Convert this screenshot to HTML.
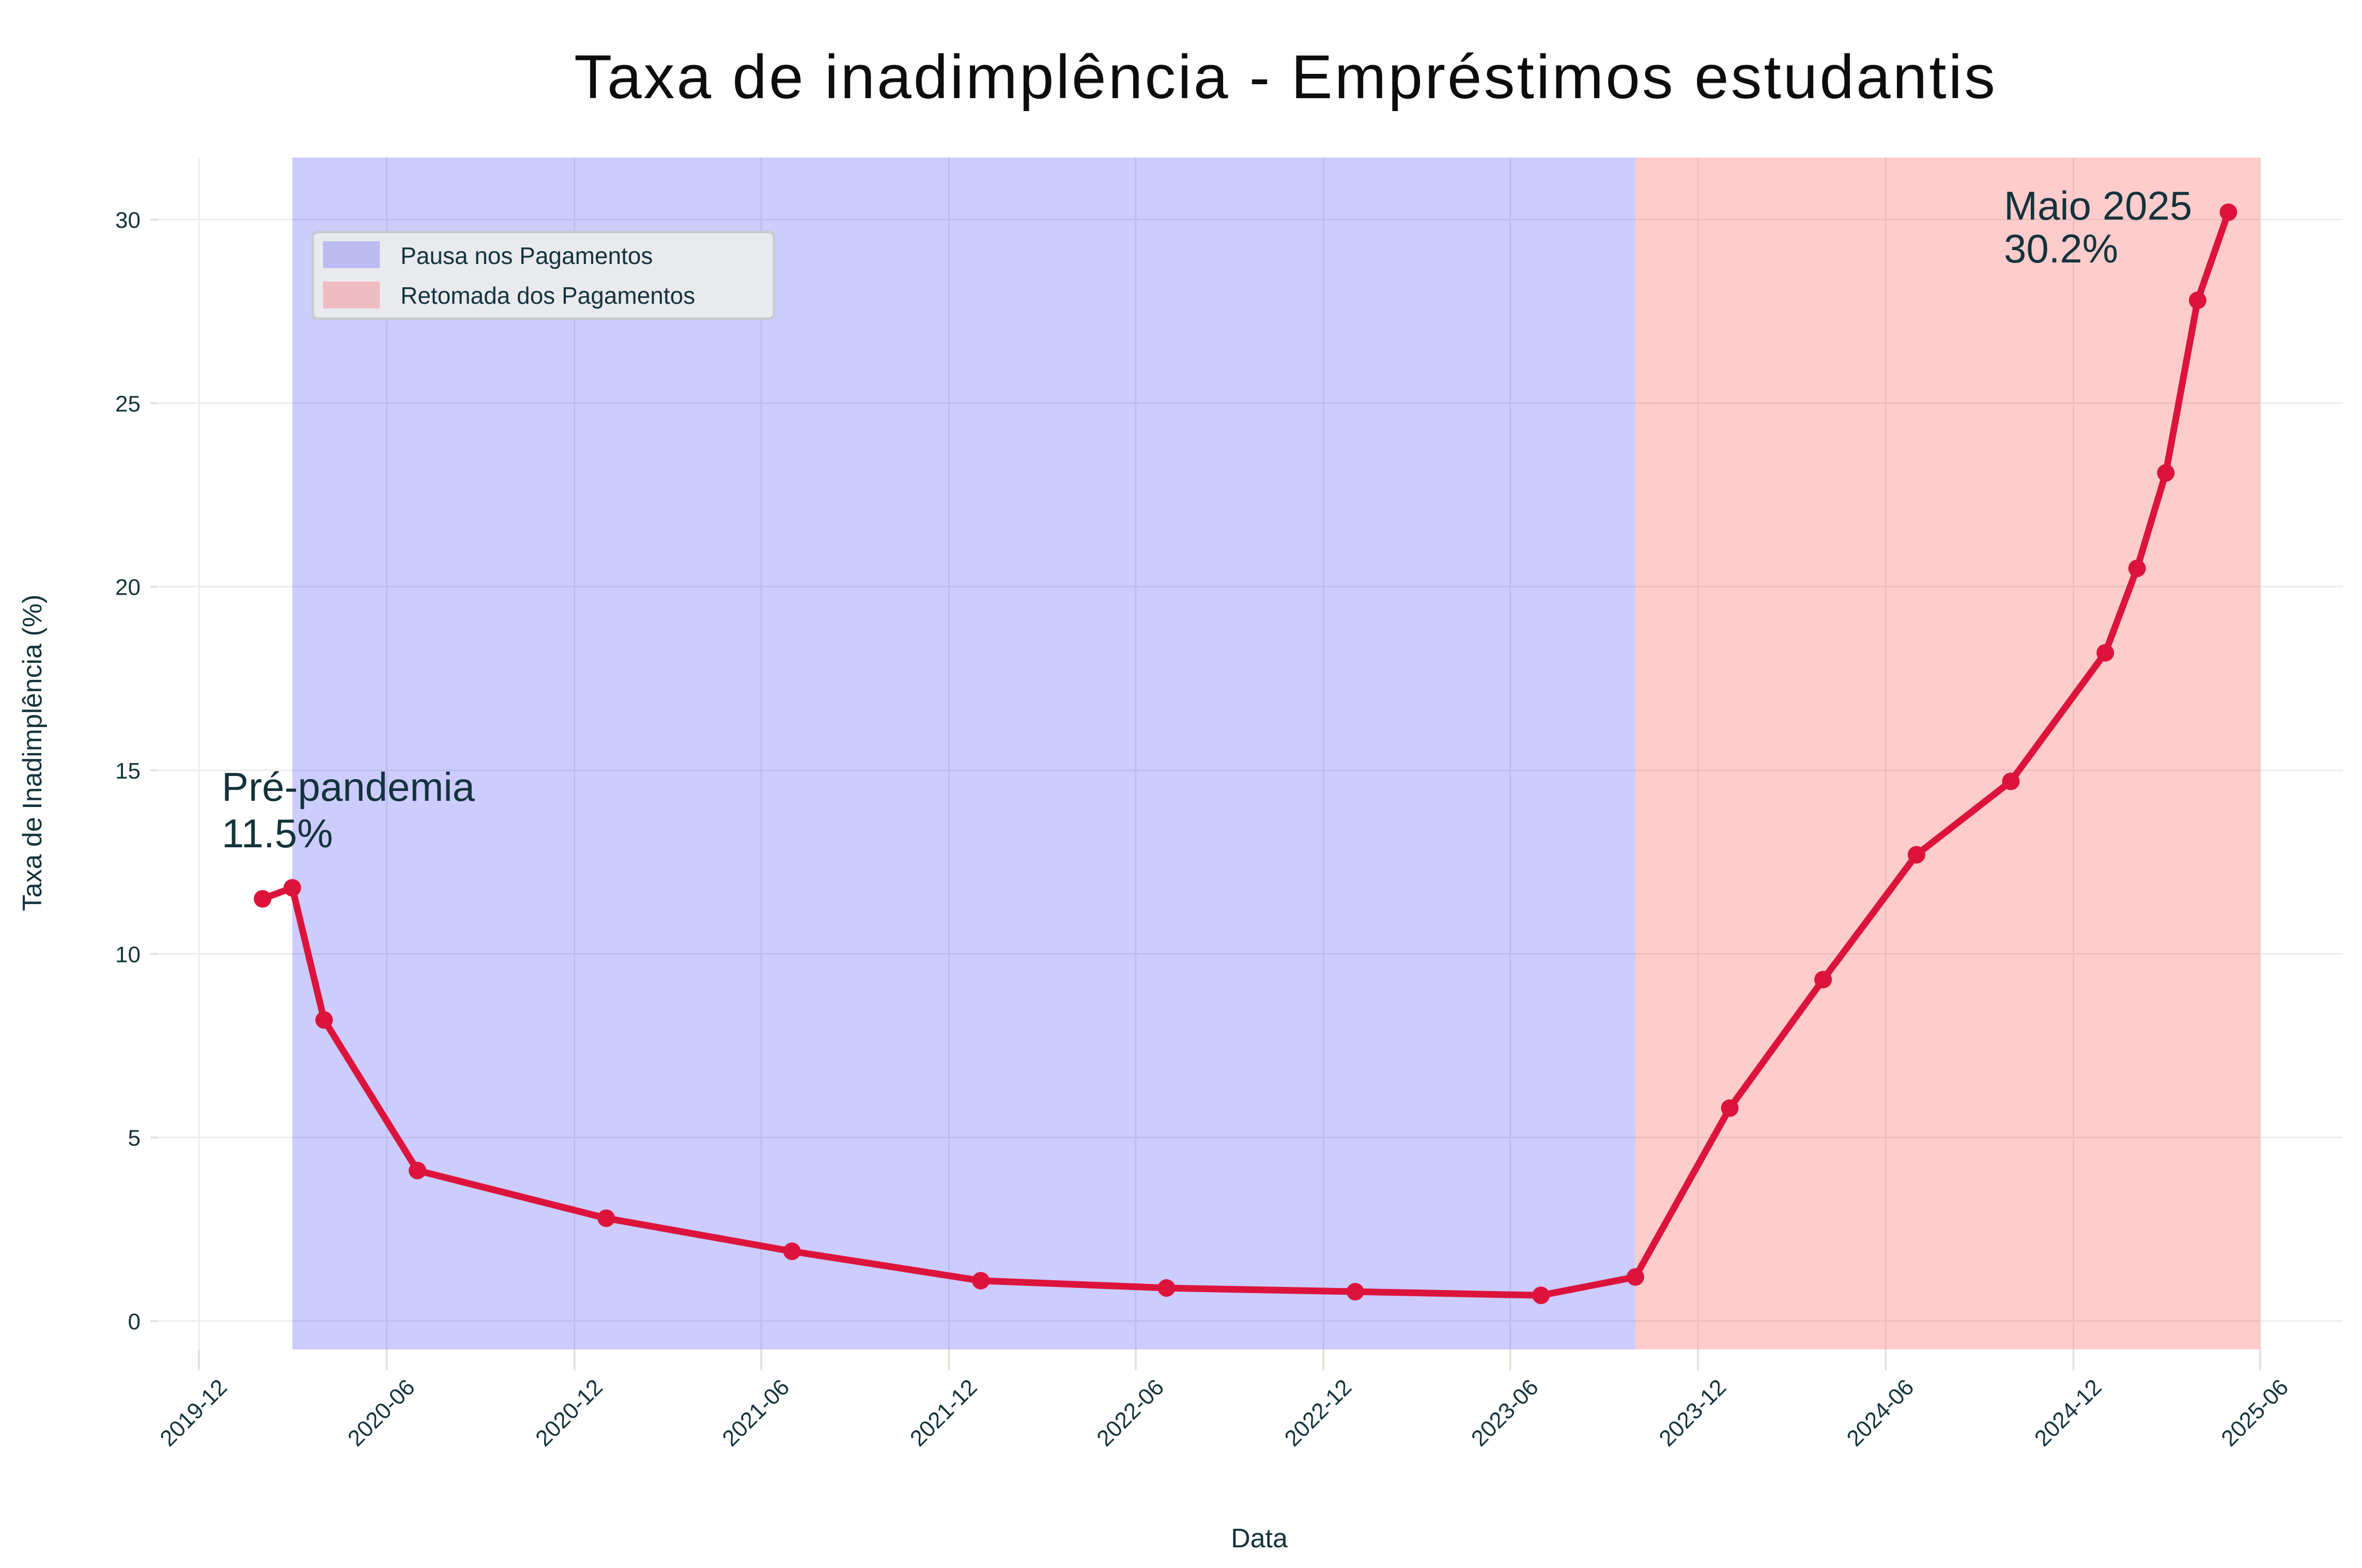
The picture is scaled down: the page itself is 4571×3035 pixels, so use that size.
<!DOCTYPE html>
<html><head><meta charset="utf-8"><style>
html,body{margin:0;padding:0;background:#fff}
svg{display:block;font-family:"Liberation Sans",sans-serif}
</style></head><body>
<svg id="chart" width="4571" height="3035" viewBox="0 0 4571 3035">
<text x="2486" y="190" font-size="120" text-anchor="middle" fill="#0d0d0d" textLength="2750">Taxa de inadimplência - Empréstimos estudantis</text>
<g id="grid"></g>
<g id="spans"></g>
<g id="axes"></g>
<g id="series"></g>
<text x="2437" y="2995" font-size="52" text-anchor="middle" fill="#14333c">Data</text>
<text transform="translate(80,1457) rotate(-90)" font-size="52" text-anchor="middle" fill="#14333c">Taxa de Inadimplência (%)</text>
<g>
<rect x="605" y="449" width="893" height="168" rx="10" fill="#e9eaee" stroke="#c9cad0" stroke-width="5"/>
<rect x="625" y="467" width="110" height="52" fill="#bbbbf2"/>
<text x="775" y="511" font-size="46" fill="#14333c">Pausa nos Pagamentos</text>
<rect x="625" y="545" width="110" height="52" fill="#efbcc2"/>
<text x="775" y="588" font-size="46" fill="#14333c">Retomada dos Pagamentos</text>
</g>
<text x="429" y="1550" font-size="78" fill="#14333c">Pré-pandemia</text>
<text x="429" y="1640" font-size="78" fill="#14333c">11.5%</text>
<text x="3878" y="425" font-size="78" fill="#14333c">Maio 2025</text>
<text x="3878" y="508" font-size="78" fill="#14333c">30.2%</text>
</svg>
<script>
const dates = ["2020-02-01","2020-03-01","2020-04-01","2020-07-01","2021-01-01","2021-07-01","2022-01-01","2022-07-01","2023-01-01","2023-07-01","2023-10-01","2024-01-01","2024-04-01","2024-07-01","2024-10-01","2025-01-01","2025-02-01","2025-03-01","2025-04-01","2025-05-01"];
const rates = [11.5,11.8,8.2,4.1,2.8,1.9,1.1,0.9,0.8,0.7,1.2,5.8,9.3,12.7,14.7,18.2,20.5,23.1,27.8,30.2];
const xTickLabels = ["2019-12","2020-06","2020-12","2021-06","2021-12","2022-06","2022-12","2023-06","2023-12","2024-06","2024-12","2025-06"];
const yTicks = [0,5,10,15,20,25,30];
const pauseSpan = ["2020-03-01","2023-10-01"];
const resumeSpan = ["2023-10-01","2025-06-01"];

const NS="http://www.w3.org/2000/svg";
const t0=Date.parse("2019-12-01"), t1=Date.parse("2025-06-01");
const X0=385, X1=4374;
function xs(d){return X0+(Date.parse(d)-t0)/(t1-t0)*(X1-X0);}
const Y0=2557, Y30=425;
function ys(v){return Y0+(Y30-Y0)*v/30;}
const PL=303, PR=4534, PT=305, PB=2612;
function mk(tag,attrs,parent){const e=document.createElementNS(NS,tag);for(const k in attrs)e.setAttribute(k,attrs[k]);parent.appendChild(e);return e;}
const grid=document.getElementById('grid'), spans=document.getElementById('spans'), axes=document.getElementById('axes'), series=document.getElementById('series');

yTicks.forEach(v=>{
  const l=mk('line',{x1:PL,x2:PR,y1:ys(v),y2:ys(v),stroke:'#ececec','stroke-width':3},grid);
  
  
  const tk=mk('line',{x1:PL-12,x2:PL+2,y1:ys(v),y2:ys(v),stroke:'#e2e2dc','stroke-width':4},axes);
  
  
  const t=mk('text',{x:272,y:ys(v)+16,'font-size':44,'text-anchor':'end',fill:'#14333c'},axes);
  t.textContent=v;
  
  
});
xTickLabels.forEach(s=>{
  const x=xs(s+"-01");
  const l=mk('line',{x1:x,x2:x,y1:PT,y2:PB,stroke:'#ececec','stroke-width':3},grid);
  
  
  const tk=mk('line',{x1:x,x2:x,y1:PB,y2:PB+40,stroke:'#e2e2dc','stroke-width':4},axes);
  
  
  const t=mk('text',{x:0,y:0,'font-size':44,'text-anchor':'middle',fill:'#14333c',transform:`translate(${x},${2745}) rotate(-45)`},axes);
  t.textContent=s;
  
  
});
const ps=mk('rect',{x:xs(pauseSpan[0]),y:PT,width:xs(pauseSpan[1])-xs(pauseSpan[0]),height:PB-PT,fill:'rgb(0,0,255)','fill-opacity':0.2},spans);


const rs=mk('rect',{x:xs(resumeSpan[0]),y:PT,width:xs(resumeSpan[1])-xs(resumeSpan[0]),height:PB-PT,fill:'rgb(255,0,0)','fill-opacity':0.2},spans);



const pts=dates.map((d,i)=>xs(d)+','+ys(rates[i])).join(' ');
const line=mk('polyline',{points:pts,fill:'none',stroke:'#dc143c','stroke-width':13,'stroke-linejoin':'round'},series);


dates.forEach((d,i)=>{
  const c=mk('circle',{cx:xs(d),cy:ys(rates[i]),r:17,fill:'#dc143c'},series);
  
  
});
</script>
</body></html>
